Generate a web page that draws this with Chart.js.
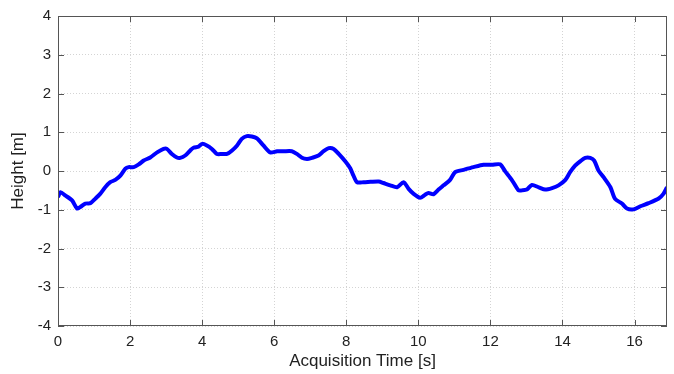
<!DOCTYPE html>
<html>
<head>
<meta charset="utf-8">
<script src="https://cdn.jsdelivr.net/npm/chart.js@4.4.0/dist/chart.umd.min.js"></script>
<style>
  html, body { margin: 0; padding: 0; background: #fff; }
</style>
</head>
<body>
<canvas id="heightChart" width="674" height="374"></canvas>
<script>
// acquisition time (s) and height (m)
const times = [0, 0.07, 0.2, 0.39, 0.53, 0.62, 0.76, 0.9, 1.03, 1.17, 1.31, 1.45, 1.59, 1.73, 1.87, 1.96,
  2.1, 2.24, 2.38, 2.56, 2.75, 2.93, 3.02, 3.16, 3.3, 3.39, 3.53, 3.67, 3.76, 3.9, 4.0, 4.13, 4.27,
  4.41, 4.55, 4.69, 4.83, 4.97, 5.1, 5.24, 5.38, 5.52, 5.7, 5.89, 6.08, 6.26, 6.49, 6.63, 6.77,
  6.91, 7.05, 7.23, 7.37, 7.51, 7.65, 7.79, 7.97, 8.11, 8.2, 8.3, 8.48, 8.67, 8.9, 9.03, 9.22,
  9.41, 9.59, 9.73, 9.87, 10.05, 10.19, 10.28, 10.42, 10.56, 10.7, 10.88, 11.02, 11.25, 11.53,
  11.81, 12.04, 12.27, 12.41, 12.6, 12.78, 12.87, 13.01, 13.15, 13.34, 13.52, 13.71, 13.89, 14.08,
  14.21, 14.35, 14.49, 14.63, 14.77, 14.88, 15.0, 15.14, 15.33, 15.46, 15.65, 15.79, 15.97, 16.16,
  16.39, 16.67, 16.8, 16.9];
const heights = [-0.67, -0.55, -0.63, -0.76, -0.97, -0.93, -0.84, -0.83, -0.72, -0.59, -0.42, -0.29, -0.23, -0.12, 0.06, 0.1,
  0.1, 0.17, 0.27, 0.35, 0.48, 0.57, 0.57, 0.44, 0.35, 0.34, 0.4, 0.53, 0.6, 0.63, 0.7, 0.66, 0.57,
  0.44, 0.44, 0.44, 0.53, 0.66, 0.83, 0.9, 0.89, 0.84, 0.66, 0.48, 0.51, 0.51, 0.51, 0.44, 0.34,
  0.31, 0.34, 0.4, 0.51, 0.59, 0.57, 0.44, 0.25, 0.07, -0.12, -0.29, -0.29, -0.28, -0.27, -0.31, -0.37,
  -0.42, -0.29, -0.46, -0.59, -0.69, -0.61, -0.57, -0.6, -0.48, -0.37, -0.23, -0.03, 0.03, 0.1,
  0.16, 0.16, 0.17, -0.01, -0.24, -0.5, -0.5, -0.48, -0.36, -0.42, -0.48, -0.44, -0.37, -0.23,
  -0.03, 0.14, 0.25, 0.34, 0.34, 0.27, 0.01, -0.16, -0.42, -0.72, -0.84, -0.97, -0.99, -0.91,
  -0.83, -0.71, -0.59, -0.42];
const xTicks = [0, 2, 4, 6, 8, 10, 12, 14, 16];
const yTicks = [-4, -3, -2, -1, 0, 1, 2, 3, 4];

const points = times.map((t, i) => ({ x: t, y: heights[i] }));

// box around the plot plus short inward tick marks, matlab style
const boxPlugin = {
  id: "box",
  afterDraw(chart) {
    const { ctx, chartArea: a, scales } = chart;
    ctx.save();
    ctx.strokeStyle = "#555";
    ctx.lineWidth = 1;
    ctx.strokeRect(a.left + 0.5, a.top + 0.5, a.right - a.left - 1, a.bottom - a.top - 1);
    ctx.beginPath();
    xTicks.forEach(v => {
      const x = Math.round(scales.x.getPixelForValue(v)) + 0.5;
      ctx.moveTo(x, a.bottom); ctx.lineTo(x, a.bottom - 6);
      ctx.moveTo(x, a.top); ctx.lineTo(x, a.top + 6);
    });
    yTicks.forEach(v => {
      const y = Math.round(scales.y.getPixelForValue(v)) + 0.5;
      ctx.moveTo(a.left, y); ctx.lineTo(a.left + 6, y);
      ctx.moveTo(a.right, y); ctx.lineTo(a.right - 6, y);
    });
    ctx.stroke();
    ctx.restore();
  }
};

const font = { family: "'Liberation Sans', Arial, Helvetica, sans-serif", size: 15 };
const titleFont = { family: font.family, size: 17 };

new Chart(document.getElementById("heightChart"), {
  type: "line",
  data: {
    datasets: [{
      data: points,
      borderColor: "#0000ff",
      borderWidth: 4,
      pointRadius: 0,
      tension: 0.25,
      fill: false
    }]
  },
  options: {
    responsive: false,
    animation: false,
    layout: { padding: { left: 0, right: 7, top: 15, bottom: 0 } },
    plugins: { legend: { display: false }, tooltip: { enabled: false } },
    scales: {
      x: {
        type: "linear",
        min: 0,
        max: 16.9,
        afterBuildTicks: s => { s.ticks = xTicks.map(v => ({ value: v })); },
        afterFit: s => { s.height = 48; },
        ticks: { color: "#222", font: font, padding: 7, maxRotation: 0, autoSkip: false },
        grid: { color: "#d4d4d4", drawTicks: false, lineWidth: 1 },
        border: { display: false, dash: [1, 2] },
        title: { display: true, text: "Acquisition Time [s]", color: "#222", font: titleFont, padding: { top: 0, bottom: 2 } }
      },
      y: {
        min: -4,
        max: 4,
        afterBuildTicks: s => { s.ticks = yTicks.map(v => ({ value: v })); },
        afterFit: s => { s.width = 58; },
        ticks: { color: "#222", font: font, padding: 7, autoSkip: false },
        grid: { color: "#d4d4d4", drawTicks: false, lineWidth: 1 },
        border: { display: false, dash: [1, 2] },
        title: { display: true, text: "Height [m]", color: "#222", font: titleFont, padding: { top: 8, bottom: 0 } }
      }
    }
  },
  plugins: [boxPlugin]
});
</script>
</body>
</html>
